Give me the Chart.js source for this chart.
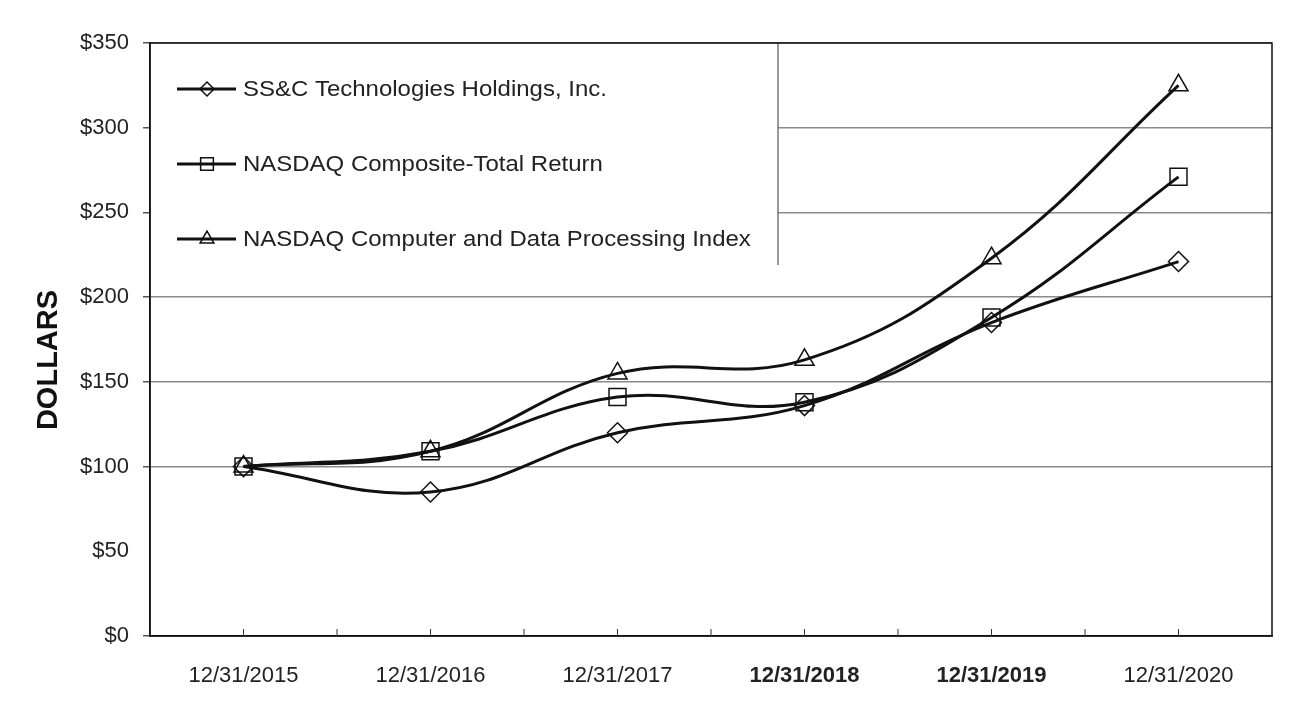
<!DOCTYPE html>
<html>
<head>
<meta charset="utf-8">
<script src="https://cdn.jsdelivr.net/npm/chart.js@4.4.1/dist/chart.umd.min.js"></script>
<style>
  body { margin: 0; background: #fff; }
  canvas { display: block; }
</style>
</head>
<body>
<canvas id="perfChart" width="1294" height="713"></canvas>
<script>
const years = ['12/31/2015', '12/31/2016', '12/31/2017', '12/31/2018', '12/31/2019', '12/31/2020']
const seriesNames = ['SS&C Technologies Holdings, Inc.', 'NASDAQ Composite-Total Return', 'NASDAQ Computer and Data Processing Index']
const ssc = [100, 85, 120, 136, 185, 221]
const nasdaqComposite = [100, 109, 141, 138, 188, 271]
const nasdaqComputer = [100, 109, 155, 163, 223, 325]
const yTicks = [0, 50, 100, 150, 200, 250, 300, 350]

const FONT = "'Liberation Sans', Arial, sans-serif"
const ctx = document.getElementById('perfChart').getContext('2d')

// legend rows + white box in the upper left corner of the plot
const legendRows = [89, 164, 239]
const legendRight = 778
const legendBottom = 265

const decorations = {
    id: 'decorations',
    beforeDatasetsDraw(chart) {
        const { ctx, chartArea: a } = chart
        ctx.save()
        ctx.fillStyle = '#fff'
        ctx.fillRect(a.left + 1, a.top + 1, legendRight - a.left - 1, legendBottom - a.top)
        ctx.strokeStyle = '#555'
        ctx.lineWidth = 1.2
        ctx.beginPath()
        ctx.moveTo(legendRight, a.top)
        ctx.lineTo(legendRight, legendBottom)
        ctx.stroke()
        ctx.restore()
    },
    afterDraw(chart) {
        const { ctx, chartArea: a } = chart
        const xs = chart.scales.x
        ctx.save()

        // frame
        ctx.strokeStyle = '#111'
        ctx.lineWidth = 1.5
        ctx.strokeRect(a.left, a.top, a.right - a.left, a.bottom - a.top)

        // small inner ticks on the category axis
        ctx.strokeStyle = '#333'
        ctx.lineWidth = 1
        for (let i = 0; i < years.length; i++) {
            const c = xs.getPixelForValue(i)
            const marks = [c]
            if (i < years.length - 1) marks.push((c + xs.getPixelForValue(i + 1)) / 2)
            marks.forEach(x => {
                ctx.beginPath()
                ctx.moveTo(x, a.bottom)
                ctx.lineTo(x, a.bottom - 7)
                ctx.stroke()
            })
        }

        // legend
        chart.data.datasets.forEach((ds, i) => {
            const y = legendRows[i]
            ctx.strokeStyle = '#111'
            ctx.lineWidth = 3
            ctx.beginPath()
            ctx.moveTo(177, y)
            ctx.lineTo(236, y)
            ctx.stroke()
            ctx.lineWidth = 1.5
            ctx.fillStyle = 'rgba(0,0,0,0)'
            Chart.helpers.drawPoint(ctx, {
                pointStyle: ds.pointStyle,
                radius: ds.legendRadius,
                rotation: 0,
                borderWidth: 1.5
            }, 207, y)
            // source text is a bit wider than the font, stretch it slightly
            ctx.save()
            ctx.translate(243, y + 1)
            ctx.scale(1.09, 1)
            ctx.fillStyle = '#222'
            ctx.font = '22px ' + FONT
            ctx.textAlign = 'left'
            ctx.textBaseline = 'middle'
            ctx.fillText(ds.label, 0, 0)
            ctx.restore()
        })

        // axis title
        ctx.translate(49, 360)
        ctx.rotate(-Math.PI / 2)
        ctx.fillStyle = '#111'
        ctx.font = 'bold 29px ' + FONT
        ctx.textAlign = 'center'
        ctx.textBaseline = 'middle'
        ctx.fillText('DOLLARS', 0, 0)
        ctx.restore()
    }
}

const lineStyle = {
    borderColor: '#111',
    borderWidth: 3,
    pointBorderColor: '#111',
    pointBackgroundColor: 'rgba(0,0,0,0)',
    pointBorderWidth: 1.5,
    tension: 0.4,
    fill: false
}

new Chart(ctx, {
    type: 'line',
    data: {
        labels: years,
        datasets: [
            { ...lineStyle, label: seriesNames[0], data: ssc, pointStyle: 'rectRot', pointRadius: 10, legendRadius: 7 },
            { ...lineStyle, label: seriesNames[1], data: nasdaqComposite, pointStyle: 'rect', pointRadius: 12, legendRadius: 9 },
            { ...lineStyle, label: seriesNames[2], data: nasdaqComputer, pointStyle: 'triangle', pointRadius: 11, legendRadius: 8 }
        ]
    },
    options: {
        responsive: false,
        animation: false,
        devicePixelRatio: 1,
        layout: { padding: { top: 43, right: 22, left: 0, bottom: 0 } },
        plugins: {
            legend: { display: false },
            tooltip: { enabled: false }
        },
        scales: {
            x: {
                offset: true,
                grid: { display: false },
                border: { display: true, color: '#111', width: 1.5 },
                ticks: {
                    color: '#222',
                    padding: 19,
                    maxRotation: 0,
                    font: c => ({ family: FONT, size: 22, weight: (c.index === 3 || c.index === 4) ? 'bold' : 'normal' })
                },
                afterFit: s => { s.height = 77 }
            },
            y: {
                min: 0,
                max: 350,
                afterBuildTicks: s => { s.ticks = yTicks.map(v => ({ value: v })) },
                grid: {
                    color: c => (c.tick.value === 0 || c.tick.value === 50) ? 'rgba(0,0,0,0)' : '#8a8a8a',
                    tickColor: c => c.tick.value === 50 ? 'rgba(0,0,0,0)' : '#555',
                    lineWidth: 1.5,
                    tickLength: 7
                },
                border: { display: true, color: '#111', width: 1.5 },
                ticks: {
                    color: '#222',
                    padding: 14,
                    font: { family: FONT, size: 22 },
                    callback: v => '$' + v
                },
                afterFit: s => { s.width = 150 }
            }
        }
    },
    plugins: [decorations]
})
</script>
</body>
</html>
